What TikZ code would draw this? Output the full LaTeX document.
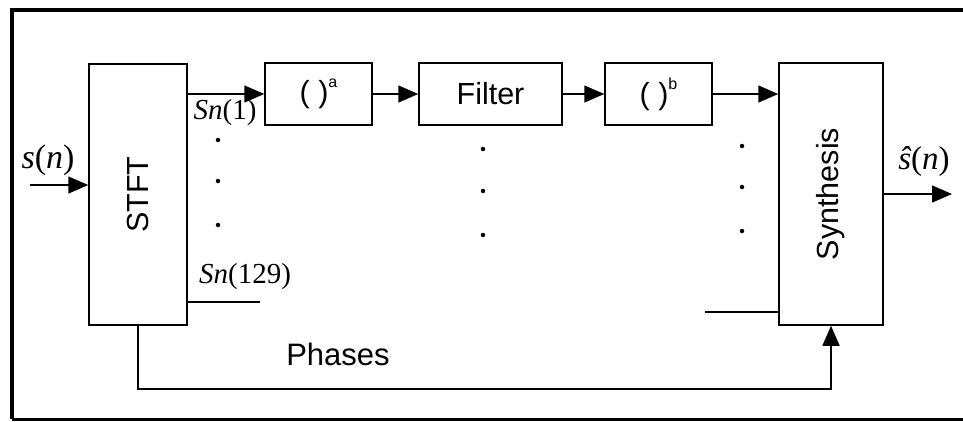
\documentclass[tikz,border=0pt]{standalone}
\usepackage{fontspec}
\setmainfont{Liberation Sans}
\newfontfamily\mathserif{Liberation Serif}
\usetikzlibrary{arrows.meta}

% italic letter in the serif face
\newcommand{\vi}[1]{{\mathserif\itshape #1}}
\newcommand{\vu}[1]{{\mathserif #1}}
% "( )" with a small raised exponent
\newcommand{\powbox}[1]{( )\raisebox{0.5em}{\fontsize{16}{16}\selectfont #1}}

\begin{document}
\begin{tikzpicture}[x=1pt,y=-1pt,
  line width=1.5pt,
  block/.style={draw, line width=1.5pt, inner sep=0pt,
    font=\fontsize{30.5}{30.5}\selectfont},
  arr/.style={draw, line width=1.5pt, -{Triangle[length=20pt,width=17pt]}},
  lbl/.style={inner sep=0pt, font=\fontsize{29}{29}\selectfont},
  dotmark/.style={circle, fill=black, inner sep=0pt, minimum size=4.5pt}]

  % canvas
  \useasboundingbox (0,0) rectangle (963,421);
  \fill[white] (0,0) rectangle (963,421);

  % outer frame, open on the right
  \draw[line width=4.5pt] (963,10) -- (12,10) -- (12,419);
  \draw[line width=3pt] (12,419) -- (963,419);

  % blocks
  \node[block, minimum width=98pt, minimum height=261pt] (stft) at (138,194.5)
    {\rotatebox{90}{STFT}};
  \node[block, minimum width=107pt, minimum height=62pt] (pa) at (318.5,94)
    {\powbox{a}};
  \node[block, minimum width=143pt, minimum height=62pt] (filt) at (490.5,94)
    {Filter};
  \node[block, minimum width=107pt, minimum height=62pt] (pb) at (658.5,94)
    {\powbox{b}};
  \node[block, minimum width=104pt, minimum height=262pt] (synth) at (831,194)
    {\rotatebox{90}{Synthesis}};

  % free ends of the connectors
  \coordinate (in) at (30,185);
  \coordinate (out) at (952,194);
  \coordinate (lastout) at (260,302);
  \coordinate (lastin) at (705,312);

  % signal path of the first bin
  \draw[arr] (pa.west -| stft.east) -- (pa.west);
  \draw[arr] (pa.east) -- (filt.west);
  \draw[arr] (filt.east) -- (pb.west);
  \draw[arr] (pb.east) -- (pb.east -| synth.west);

  % input and output
  \draw[arr] (in) -- (in -| stft.west);
  \draw[arr] (synth.east |- out) -- (out);

  % last bin stubs
  \draw (lastout -| stft.east) -- (lastout);
  \draw (lastin) -- (lastin -| synth.west);

  % phase path
  \draw[arr] (stft.south) -- ++(0,63) -| (synth.south);

  % ellipsis dots
  \node[dotmark] (d1) at (218,140) {};
  \node[dotmark] (d2) at (218,181) {};
  \node[dotmark] (d3) at (218,225) {};
  \node[dotmark] (d4) at (483,149) {};
  \node[dotmark] (d5) at (483,191) {};
  \node[dotmark] (d6) at (483,235) {};
  \node[dotmark] (d7) at (742,146) {};
  \node[dotmark] (d8) at (742,187) {};
  \node[dotmark] (d9) at (742,231) {};

  % labels
  \node[lbl, font=\fontsize{34}{34}\selectfont] (lin) at (48,160)
    {\vi{s}\vu{(}\vi{n}\vu{)}};
  \node[lbl, font=\fontsize{33}{33}\selectfont] (lout) at (924,162)
    {\vi{ŝ}\vu{(}\vi{n}\vu{)}};
  \node[lbl] (l1) at (225,113) {\vi{Sn}\vu{(1)}};
  \node[lbl] (l129) at (245,277) {\vi{Sn}\vu{(129)}};
  \node[lbl, font=\fontsize{31}{31}\selectfont] (lph) at (338,354) {Phases};
\end{tikzpicture}
\end{document}
